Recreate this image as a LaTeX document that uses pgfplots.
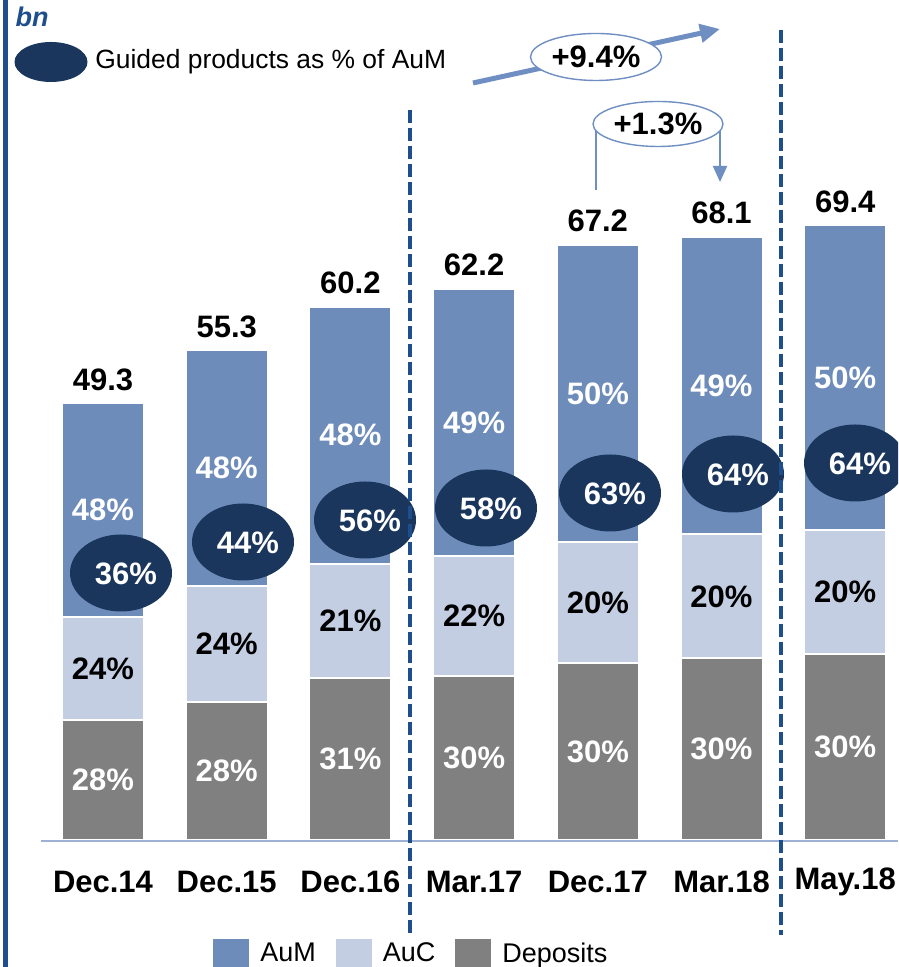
\documentclass[border=0pt]{standalone}
\usepackage{pgfplots}
\pgfplotsset{compat=1.18}
\usepackage{pgfplotstable}
\usepackage{fontspec}
\setmainfont{Liberation Sans}
\usetikzlibrary{shapes.geometric,arrows.meta}
\definecolor{aum}{HTML}{6D8CBA}
\definecolor{auc}{HTML}{C3CEE2}
\definecolor{dep}{HTML}{808080}
\definecolor{dk}{HTML}{1A365D}
\definecolor{dsh}{HTML}{1F4E8C}
\definecolor{arr}{HTML}{6F8FC2}
\definecolor{base}{HTML}{9EB1D4}
\newcommand{\lab}{\fontsize{15.5}{18}\selectfont\bfseries}
\pgfplotstableread{
x dep auc aum tot
0 13.5 11.7 24.1 49.3
1 15.6 13.1 26.6 55.3
2 18.3 12.9 29.0 60.2
3 18.5 13.5 30.2 62.2
4 20.0 13.6 33.6 67.2
5 20.5 14.0 33.6 68.1
6 21.0 14.0 34.4 69.4
}\data
\begin{document}
\begin{tikzpicture}
\clip (0,0) rectangle (449pt,483.5pt);
\useasboundingbox (0,0) rectangle (449pt,483.5pt);
\begin{axis}[
  name=ax, at={(0,0)}, anchor=south west,
  scale only axis, width=449pt, height=483.5pt,
  xmin=-0.8327, xmax=6.4268, ymin=-14.334, ymax=94.81,
  ybar stacked, bar width=41pt,
  axis line style={draw=none},
  ytick=\empty, xtick={0,...,6},
  xticklabels={Dec.14,Dec.15,Dec.16,Mar.17,Dec.17,Mar.18,May.18},
  major tick length=0pt,
  xticklabel style={font=\lab, anchor=center, yshift=42.5pt},
  clip=false,
  reverse legend,
  legend columns=3,
  legend style={at={(rel axis cs:0.2372,0.0134)}, anchor=west, draw=none, fill=none,
    inner sep=0pt, font=\fontsize{13.5}{15}\selectfont,
    /tikz/every odd column/.append style={column sep=3.5pt},
    /tikz/every even column/.append style={column sep=8pt},
    nodes={inner sep=2pt}},
  legend image code/.code={\fill[#1, draw=none] (0pt,-7.5pt) rectangle (18pt,7.5pt);},
]
\addplot[fill=dep, draw=white, line width=1pt] table[x=x,y=dep]{\data};
\addlegendentry{Deposits}
\addplot[fill=auc, draw=white, line width=1pt] table[x=x,y=auc]{\data};
\addlegendentry{AuC}
\addplot[fill=aum, draw=white, line width=1pt] table[x=x,y=aum]{\data};
\addlegendentry{AuM}
% totals
\coordinate (t0) at (axis cs:0,49.3);
\coordinate (t1) at (axis cs:1,55.3);
\coordinate (t2) at (axis cs:2,60.2);
\coordinate (t3) at (axis cs:3,62.2);
\coordinate (t4) at (axis cs:4,67.2);
\coordinate (t5) at (axis cs:5,68.1);
\coordinate (t6) at (axis cs:6,69.4);
% deposits midpoints
\coordinate (d0) at (axis cs:0,6.75);
\coordinate (d1) at (axis cs:1,7.8);
\coordinate (d2) at (axis cs:2,9.15);
\coordinate (d3) at (axis cs:3,9.25);
\coordinate (d4) at (axis cs:4,10.0);
\coordinate (d5) at (axis cs:5,10.25);
\coordinate (d6) at (axis cs:6,10.5);
% auc midpoints
\coordinate (c0) at (axis cs:0,19.35);
\coordinate (c1) at (axis cs:1,22.15);
\coordinate (c2) at (axis cs:2,24.75);
\coordinate (c3) at (axis cs:3,25.25);
\coordinate (c4) at (axis cs:4,26.8);
\coordinate (c5) at (axis cs:5,27.5);
\coordinate (c6) at (axis cs:6,28.0);
% aum midpoints
\coordinate (m0) at (axis cs:0,37.25);
\coordinate (m1) at (axis cs:1,42.0);
\coordinate (m2) at (axis cs:2,45.7);
\coordinate (m3) at (axis cs:3,47.1);
\coordinate (m4) at (axis cs:4,50.4);
\coordinate (m5) at (axis cs:5,51.3);
\coordinate (m6) at (axis cs:6,52.2);
\end{axis}
\foreach \i/\v in {0/49.3,1/55.3,2/60.2,3/62.2,4/67.2,5/68.1,6/69.4}
  \node[font=\lab, anchor=base, yshift=6.5pt] at (t\i) {\v};
\foreach \i/\v in {0/28,1/28,2/31,3/30,4/30,5/30,6/30}
  \node[font=\lab, text=white] at (d\i) {\v\%};
\foreach \i/\v in {0/24,1/24,2/21,3/22,4/20,5/20,6/20}
  \node[font=\lab] at (c\i) {\v\%};
\foreach \i/\v in {0/48,1/48,2/48,3/49,4/50,5/49,6/50}
  \node[font=\lab, text=white] at (m\i) {\v\%};
\begin{scope}[x=0.5pt,y=-0.5pt,shift={(0pt,483.5pt)}]
  % left edge line
  \draw[dsh, line width=2.5pt] (5.5,0) -- (5.5,967);
  % baseline
  \draw[base, line width=1pt] (41,841) -- (898,841);
  % guided ellipses
  \tikzset{gp/.style={ellipse, fill=dk, minimum width=51pt, minimum height=38.5pt, inner sep=0pt}}
  \foreach \cx/\cy/\t in {121/573/36,243/542/44,365/520/56,486/508/58,610/493/63,733/474/64,855/463/64}{
    \node[gp] at (\cx,\cy) {};
    \node[font=\lab, text=white] at (\cx+5,\cy+1) {\t\%};
  }
  % top legend
  \node[font=\fontsize{13.5}{15}\selectfont\bfseries\itshape, text=dsh] at (32,17) {bn};
  \node[ellipse, fill=dk, minimum width=36.5pt, minimum height=20pt, inner sep=0pt] at (51,62) {};
  \node[anchor=west, inner sep=0pt, font=\fontsize{13.2}{15}\selectfont] at (95,62) {Guided products as \% of AuM};
  % +9.4% arrow
  \draw[arr, line width=2.5pt, -{Triangle[length=10pt,width=9pt]}] (473,83) -- (720,29);
  \node[ellipse, draw=arr, fill=white, line width=0.7pt, minimum width=65.5pt, minimum height=23.5pt, inner sep=0pt, font=\lab] at (596,57) {+9.4\%};
  % +1.3% bracket
  \draw[arr, line width=1pt] (596,190) -- (596,126);
  \draw[arr, line width=1pt, -{Triangle[length=8pt,width=7pt]}] (720,126) -- (720,182);
  \node[ellipse, draw=arr, fill=white, line width=0.7pt, minimum width=65pt, minimum height=22.5pt, inner sep=0pt, font=\lab] at (658,124) {+1.3\%};
  % dashed separators
  \draw[dsh, line width=2pt, dash pattern=on 6.5pt off 2.5pt] (410,110) -- (410,935);
  \draw[dsh, line width=2pt, dash pattern=on 6.5pt off 2.5pt] (781,30) -- (781,935);
\end{scope}
\end{tikzpicture}
\end{document}
